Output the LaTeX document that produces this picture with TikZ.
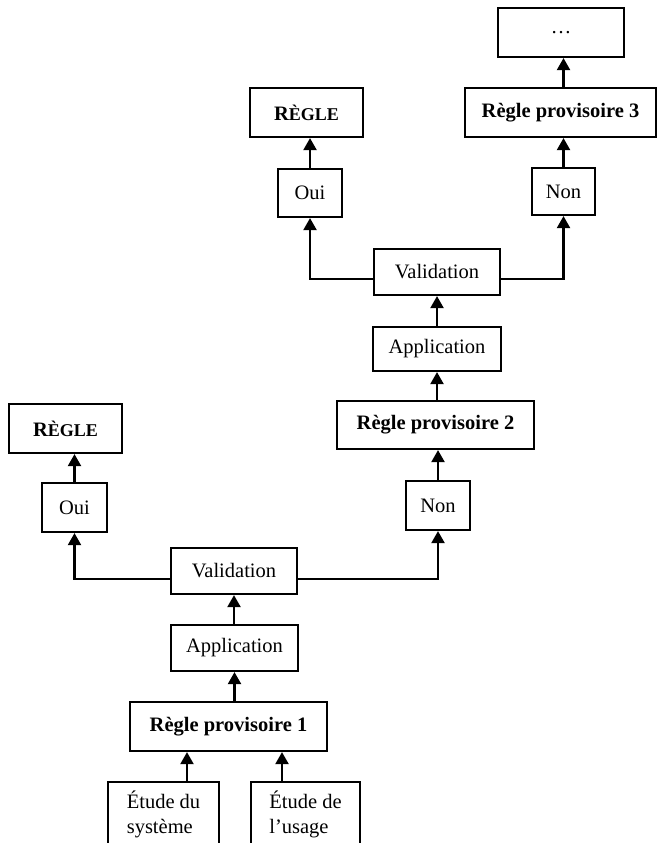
\documentclass[tikz,border=0pt]{standalone}
\usepackage{fontspec}
\setmainfont{Liberation Serif}
\usetikzlibrary{arrows.meta,calc}
\newcommand{\regleSC}{\bfseries R{\fontsize{18}{20}\selectfont ÈGLE}}
\begin{document}
\begin{tikzpicture}[x=1pt,y=-1pt,
  box/.style={draw, line width=2.2pt, inner sep=0pt, font=\fontsize{20.5}{25}\selectfont},
  bbox/.style={box, font=\fontsize{20.5}{25}\selectfont\bfseries},
  arr/.style={line width=2.2pt, -{Triangle[width=13pt,length=12pt]}}]
\clip (0,0) rectangle (657,843);
% bottom
\node[box, minimum width=111pt, minimum height=64pt, align=left] (e1) at (163.5,814) {Étude du\\système};
\node[box, minimum width=109pt, minimum height=64pt, align=left] (e2) at (305.5,814) {Étude de\\l’usage};
\node[bbox, minimum width=197pt, minimum height=49pt] (rp1) at (228.5,726.5) {Règle provisoire 1};
\node[box, minimum width=127pt, minimum height=46pt] (app1) at (234.5,648) {Application};
\node[box, minimum width=126pt, minimum height=46pt] (val1) at (234,571) {Validation};
\node[box, minimum width=65pt, minimum height=49pt] (oui1) at (74.5,507.5) {Oui};
\node[box, minimum width=113pt, minimum height=49pt] (regle1) at (65.5,428.5) {\regleSC};
\node[box, minimum width=64pt, minimum height=49pt] (non1) at (438,505.5) {Non};
\node[bbox, minimum width=197pt, minimum height=48pt] (rp2) at (435.5,425) {Règle provisoire 2};
\node[box, minimum width=128pt, minimum height=44pt] (app2) at (437,349) {Application};
\node[box, minimum width=126pt, minimum height=46pt] (val2) at (437,272) {Validation};
\node[box, minimum width=64pt, minimum height=48pt] (oui2) at (310,193) {Oui};
\node[box, minimum width=113pt, minimum height=49pt] (regle2) at (306.5,112.5) {\regleSC};
\node[box, minimum width=63pt, minimum height=47pt] (non2) at (563.5,191.5) {Non};
\node[bbox, minimum width=191pt, minimum height=49pt] (rp3) at (560.5,112.5) {Règle provisoire 3};
\node[box, minimum width=126pt, minimum height=49pt] (dots) at (561,32.5) {\dots};
% connectors
\draw[arr] ([xshift=23.5pt]e1.north) -- ([xshift=23.5pt]e1.north |- rp1.south);
\draw[arr] ([xshift=-23.5pt]e2.north) -- ([xshift=-23.5pt]e2.north |- rp1.south);
\draw[arr] (rp1.north -| app1.south) -- (app1.south);
\draw[arr] (app1.north -| val1.south) -- (val1.south);
\draw[arr] ([yshift=-8pt]val1.west) -| (oui1.south);
\draw[arr] ([yshift=-8pt]val1.east) -| (non1.south);
\draw[arr] (oui1.north) -- (oui1.north |- regle1.south);
\draw[arr] (non1.north) -- (non1.north |- rp2.south);
\draw[arr] (rp2.north -| app2.south) -- (app2.south);
\draw[arr] (app2.north) -- (val2.south);
\draw[arr] ([yshift=-7pt]val2.west) -| (oui2.south);
\draw[arr] ([yshift=-7pt]val2.east) -| (non2.south);
\draw[arr] (oui2.north) -- (oui2.north |- regle2.south);
\draw[arr] (non2.north) -- (non2.north |- rp3.south);
\draw[arr] (non2.north |- rp3.north) -- (non2.north |- dots.south);
\end{tikzpicture}
\end{document}
